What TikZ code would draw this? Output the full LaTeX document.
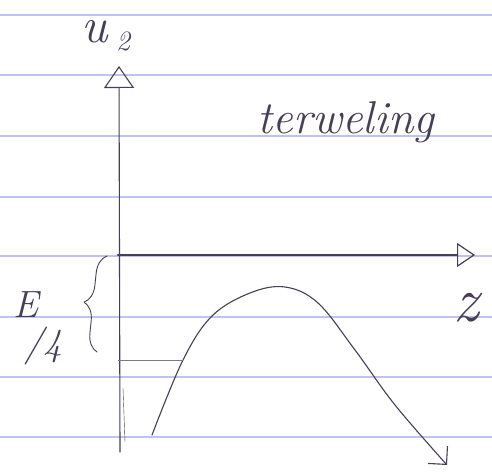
\documentclass[tikz,border=0pt]{standalone}
\usepackage{fontspec}
\usetikzlibrary{arrows.meta}
\usetikzlibrary{decorations.pathreplacing}
\definecolor{pen}{RGB}{72,62,88}
\definecolor{ruling}{RGB}{190,195,242}
\tikzset{
    ink/.style={draw=pen, line width=1.1pt, line cap=round, line join=round},
    ruling/.style={draw=ruling, line width=1.2pt},
    hand/.style={text=pen, inner sep=0pt},
}

\begin{document}
\begin{tikzpicture}[x=1pt, y=-1pt]
    \useasboundingbox (0,0) rectangle (492,473);
    \fill[white] (0,0) rectangle (492,473);
    % lines of the paper
    \foreach \y in {15,75,136,197,256,317,377,437}
        \draw[ruling] (0,\y) -- (492,\y);

    \coordinate (O) at (118,255);
    \coordinate (top) at (119,66);
    \coordinate (bot) at (120,452);
    \coordinate (right) at (475,255);
    \coordinate (lvl) at (118,360);
    \coordinate (hit) at (183,360);

    % axes
    \draw[ink, -{Triangle[open, length=22pt, width=30pt]}] (bot) -- (top);
    \draw[ink, line width=2.2pt, -{Triangle[open, length=18pt, width=24pt, line width=1.2pt]}] (O) -- (right);
    \draw[ink, thin] (123,388) -- (125,442);
    \node[hand, font=\fontsize{50}{54}\selectfont\itshape] (u2) at (106,36) {u\kern8pt{\fontsize{28}{30}\selectfont\raisebox{-8pt}{2}}};
    \node[hand, font=\fontsize{64}{68}\selectfont\itshape] (z) at (466,308) {z};

    % the wave
    \draw[ink, -{Straight Barb[length=13pt, width=26pt]}]
        plot[smooth, tension=0.6] coordinates {(152,435) (183,360) (212,316) (250,293) (285,287) (318,303) (355,350) (395,405) (447,465)};
    \draw[pen!70, line width=0.8pt] (lvl) -- (hit);

    % E/4 below the axis
    \draw[ink, line width=0.9pt, decorate, decoration={brace, amplitude=18pt}] (97,352) -- (107,256);
    \node[hand, font=\fontsize{38}{38}\selectfont\itshape, align=left] (e4) at (38,328) {E\\[0pt]\hspace*{0.3em}/4};

    \node[hand, font=\fontsize{46}{50}\selectfont\itshape] (name) at (346,122) {terweling};
\end{tikzpicture}
\end{document}
